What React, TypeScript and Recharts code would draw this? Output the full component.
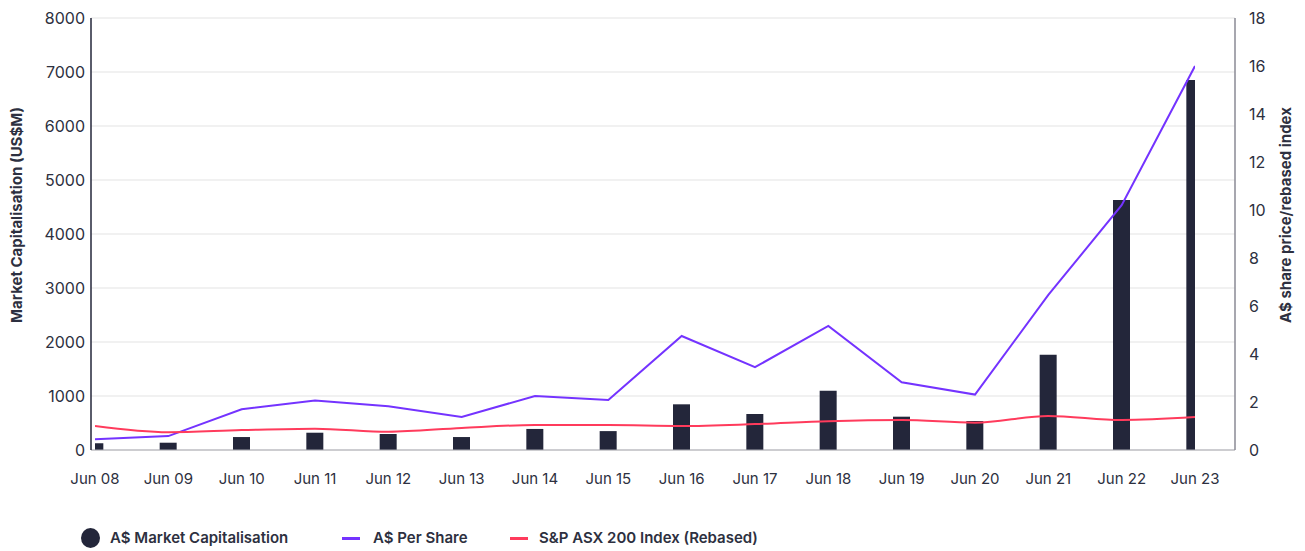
import { ComposedChart, Bar, Line, XAxis, YAxis, CartesianGrid, Legend } from 'recharts';

const periods = ['Jun 08', 'Jun 09', 'Jun 10', 'Jun 11', 'Jun 12', 'Jun 13', 'Jun 14', 'Jun 15', 'Jun 16', 'Jun 17', 'Jun 18', 'Jun 19', 'Jun 20', 'Jun 21', 'Jun 22', 'Jun 23'];
const marketCap = [125, 135, 240, 320, 296, 240, 390, 350, 846, 667, 1098, 617, 537, 1765, 4630, 6852];
const perShare = [0.45, 0.58, 1.7, 2.06, 1.82, 1.38, 2.25, 2.08, 4.75, 3.45, 5.17, 2.82, 2.31, 6.46, 10.2, 16.0];
const asx200 = [1.0, 0.74, 0.83, 0.89, 0.76, 0.92, 1.04, 1.04, 1.0, 1.08, 1.2, 1.25, 1.14, 1.42, 1.25, 1.37];

const leftTicks = [0, 1000, 2000, 3000, 4000, 5000, 6000, 7000, 8000];
const rightTicks = [0, 2, 4, 6, 8, 10, 12, 14, 16, 18];

const data = periods.map((p, i) => ({
  i,
  period: p,
  cap: marketCap[i],
  share: perShare[i],
  asx: asx200[i],
}));

const FONT = 'Inter, "Noto Sans", sans-serif';
const TEXT = '#2d3040';
const NAVY = '#23263a';
const PURPLE = '#7433ff';
const RED = '#ff3b5c';

const xTickStyle = { fontSize: 15, fill: TEXT, fontFamily: FONT };
const yTickStyle = { fontSize: 16, fill: TEXT, fontFamily: FONT };

function LegendRow() {
  const label = { position: 'absolute' as const, top: 38, fontSize: 15, fontWeight: 600, color: TEXT, fontFamily: FONT, lineHeight: '20px', whiteSpace: 'nowrap' as const };
  return (
    <div style={{ position: 'relative', height: 61, width: 1305 }}>
      <div style={{ position: 'absolute', left: 81, top: 38, width: 19, height: 20, borderRadius: '50%', background: NAVY }} />
      <div style={{ ...label, left: 110 }}>A$ Market Capitalisation</div>
      <div style={{ position: 'absolute', left: 342, top: 47, width: 18, height: 3, background: PURPLE }} />
      <div style={{ ...label, left: 373 }}>A$ Per Share</div>
      <div style={{ position: 'absolute', left: 510, top: 47, width: 18, height: 3, background: RED }} />
      <div style={{ ...label, left: 539 }}>S&amp;P ASX 200 Index (Rebased)</div>
    </div>
  );
}

export default function App() {
  return (
    <div style={{ position: 'absolute', left: 0, top: 0, width: 1305, height: 551, background: '#fff' }}>
      <ComposedChart width={1305} height={551} data={data} margin={{ top: 18, right: 0, bottom: 0, left: 0 }}>
        <CartesianGrid yAxisId="left" vertical={false} stroke="#ececec" strokeWidth={1.5} />
        <XAxis
          dataKey="i"
          type="number"
          domain={[0, 15]}
          ticks={periods.map((_, i) => i)}
          tickFormatter={(v: number) => periods[v]}
          padding={{ left: 4, right: 40 }}
          allowDataOverflow
          height={40}
          tickLine={false}
          tickMargin={17}
          stroke="#a9a9b0"
          tick={xTickStyle}
          interval={0}
        />
        <YAxis
          yAxisId="left"
          orientation="left"
          width={91}
          domain={[0, 8000]}
          ticks={leftTicks}
          tickLine={false}
          tickMargin={0}
          axisLine={{ stroke: NAVY, strokeWidth: 1.5 }}
          tick={yTickStyle}
          label={({ viewBox }: any) => (
            <text
              x={18}
              y={viewBox.y + 197}
              transform={`rotate(-90, 18, ${viewBox.y + 197})`}
              textAnchor="middle"
              dominantBaseline="middle"
              fontSize={15}
              fontWeight={700}
              fill={TEXT}
              fontFamily={FONT}
            >
              Market Capitalisation (US$M)
            </text>
          )}
        />
        <YAxis
          yAxisId="right"
          orientation="right"
          width={70}
          domain={[0, 18]}
          ticks={rightTicks}
          tickLine={false}
          tickMargin={8}
          axisLine={{ stroke: '#8a8a95', strokeWidth: 1.5 }}
          tick={yTickStyle}
          label={({ viewBox }: any) => (
            <text
              x={1287}
              y={viewBox.y + 197}
              transform={`rotate(-90, 1287, ${viewBox.y + 197})`}
              textAnchor="middle"
              dominantBaseline="middle"
              fontSize={15}
              fontWeight={700}
              fill={TEXT}
              fontFamily={FONT}
            >
              A$ share price/rebased index
            </text>
          )}
        />
        <Bar yAxisId="left" dataKey="cap" name="A$ Market Capitalisation" fill={NAVY} barSize={17} isAnimationActive={false} />
        <Line yAxisId="right" dataKey="share" name="A$ Per Share" type="linear" stroke={PURPLE} strokeWidth={2} dot={false} isAnimationActive={false} />
        <Line yAxisId="right" dataKey="asx" name="S&P ASX 200 Index (Rebased)" type="monotone" stroke={RED} strokeWidth={2} dot={false} isAnimationActive={false} />
        <Legend verticalAlign="bottom" height={61} wrapperStyle={{ left: 0, width: 1305 }} content={() => <LegendRow />} />
      </ComposedChart>
    </div>
  );
}
